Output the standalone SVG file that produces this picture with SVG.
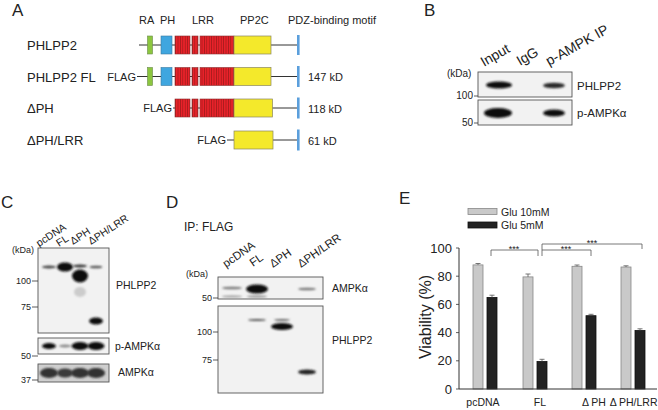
<svg xmlns="http://www.w3.org/2000/svg" width="658" height="410" viewBox="0 0 658 410">
<style>
text{font-family:"Liberation Sans",Arial,sans-serif;fill:#222}
.pl{font-size:17px}
.rl{font-size:13px}
.sm{font-size:11px}
.kd{font-size:9px}
.bl{font-size:10.5px}
.ln{stroke:#333;stroke-width:1;fill:none}
.gr{fill:#8cc63f;stroke:#6a8a4a;stroke-width:0.6}
.bu{fill:#3fa6df;stroke:#3a7aa0;stroke-width:0.6}
.rd{fill:url(#stripe);stroke:#8a3030;stroke-width:0.6}
.ye{fill:#f4e92b;stroke:#8a8660;stroke-width:0.7}
.bar{fill:#5b9fdc}
.blot{fill:#f2f2f2;stroke:#555;stroke-width:0.9}
.band{fill:#111;filter:url(#blur)}
.fb{fill:#777;filter:url(#blur)}
.tk{stroke:#333;stroke-width:0.8}
.g10{fill:#c9c9c9;stroke:#888;stroke-width:0.8}
.g5{fill:#222;stroke:#111;stroke-width:0.8}
.eb{stroke:#555;stroke-width:0.8;fill:none}
</style>
<defs>
<pattern id="stripe" patternUnits="userSpaceOnUse" width="2.4" height="10">
<rect width="2.4" height="10" fill="#e8222a"/>
<rect width="0.7" height="10" fill="#9a1a1a"/>
</pattern>
<filter id="blur" x="-30%" y="-100%" width="160%" height="300%"><feGaussianBlur stdDeviation="1.1"/></filter>
</defs>

<g id="panelA">
<text class="pl" x="12" y="16">A</text>
<text class="sm" x="139" y="24">RA</text>
<text class="sm" x="160" y="24">PH</text>
<text class="sm" x="192" y="24">LRR</text>
<text class="sm" x="240" y="24">PP2C</text>
<text class="sm" x="288" y="24">PDZ-binding motif</text>

<g id="rowPHLPP2">
<text class="rl" x="27" y="50">PHLPP2</text>
<line class="ln" x1="139" y1="45" x2="298" y2="45"/>
<rect class="gr" x="147.5" y="36" width="5" height="18"/>
<rect class="bu" x="161" y="36" width="11" height="18"/>
<rect class="rd" x="175" y="36" width="15" height="18"/>
<rect class="rd" x="192" y="36" width="6" height="18"/>
<rect class="rd" x="200" y="36" width="34" height="18"/>
<rect class="ye" x="234" y="36" width="37" height="18"/>
<rect class="bar" x="297" y="35" width="2.6" height="20"/>
</g>
<g id="rowFL">
<text class="rl" x="27" y="81.5">PHLPP2 FL</text>
<text class="sm" x="136" y="80.5" text-anchor="end">FLAG</text>
<line class="ln" x1="137" y1="76.5" x2="298" y2="76.5"/>
<rect class="gr" x="147.5" y="67.5" width="5" height="18"/>
<rect class="bu" x="161" y="67.5" width="11" height="18"/>
<rect class="rd" x="175" y="67.5" width="15" height="18"/>
<rect class="rd" x="192" y="67.5" width="6" height="18"/>
<rect class="rd" x="200" y="67.5" width="34" height="18"/>
<rect class="ye" x="234" y="67.5" width="37" height="18"/>
<rect class="bar" x="297" y="66" width="2.6" height="21"/>
<text class="sm" x="308" y="81">147 kD</text>
</g>
<g id="rowDPH">
<text class="rl" x="27" y="113">ΔPH</text>
<text class="sm" x="172" y="112" text-anchor="end">FLAG</text>
<line class="ln" x1="173" y1="108" x2="298" y2="108"/>
<rect class="rd" x="175" y="99" width="15" height="18"/>
<rect class="rd" x="192" y="99" width="6" height="18"/>
<rect class="rd" x="200" y="99" width="34" height="18"/>
<rect class="ye" x="234" y="99" width="38.5" height="18"/>
<rect class="bar" x="297" y="97.5" width="2.6" height="21"/>
<text class="sm" x="308" y="112.5">118 kD</text>
</g>
<g id="rowDPHLRR">
<text class="rl" x="27" y="145">ΔPH/LRR</text>
<text class="sm" x="226" y="144" text-anchor="end">FLAG</text>
<line class="ln" x1="227" y1="140" x2="298" y2="140"/>
<rect class="ye" x="234" y="131" width="39" height="18"/>
<rect class="bar" x="297" y="129.5" width="2.6" height="21"/>
<text class="sm" x="308" y="144.5">61 kD</text>
</g>
</g>

<g id="panelB">
<text class="pl" x="424" y="16">B</text>
<text font-size="14" transform="translate(484,67) rotate(-30)">Input</text>
<text font-size="14" transform="translate(520,66) rotate(-30)">IgG</text>
<text font-size="14" transform="translate(549,66) rotate(-29)">p-AMPK IP</text>
<text font-size="10" x="447" y="77">(kDa)</text>
<rect class="blot" x="478" y="72" width="94" height="25"/>
<rect class="blot" x="478" y="100" width="94" height="25"/>
<ellipse class="band" cx="499" cy="85" rx="13" ry="3.6"/>
<ellipse class="band" cx="554" cy="85.5" rx="11" ry="2.8" style="fill:#2a2a2a"/>
<ellipse class="band" cx="498" cy="113" rx="14" ry="5"/>
<ellipse class="band" cx="554" cy="113" rx="11" ry="3.6"/>
<text font-size="10" x="473" y="99" text-anchor="end">100</text>
<line class="tk" x1="474" y1="96" x2="478" y2="96"/>
<text font-size="10" x="473" y="126" text-anchor="end">50</text>
<line class="tk" x1="474" y1="123" x2="478" y2="123"/>
<text font-size="11.5" x="577" y="90">PHLPP2</text>
<text font-size="11.5" x="577" y="117">p-AMPKα</text>
</g>

<g id="panelC">
<text class="pl" x="1" y="208">C</text>
<text font-size="10.5" transform="translate(39,247) rotate(-33)">pcDNA</text>
<text font-size="10.5" transform="translate(59,247) rotate(-33)">FL</text>
<text font-size="10.5" transform="translate(73,245) rotate(-33)">ΔPH</text>
<text font-size="10.5" transform="translate(91,245) rotate(-33)">ΔPH/LRR</text>
<text class="kd" x="12" y="253">(kDa)</text>
<rect class="blot" x="38" y="248" width="71" height="85"/>
<rect class="blot" x="38" y="338" width="71" height="16"/>
<rect class="blot" x="38" y="364" width="71" height="18" style="fill:#cfcfcf"/>
<ellipse class="band" cx="49" cy="267" rx="7" ry="1.4" style="fill:#444"/>
<ellipse class="band" cx="65" cy="267" rx="8" ry="4.5"/>
<ellipse class="band" cx="80" cy="266" rx="7" ry="1.5" style="fill:#333"/>
<ellipse class="band" cx="80" cy="276" rx="8" ry="6.5"/>
<ellipse class="fb" cx="80" cy="292" rx="6" ry="5" style="fill:#ccc"/>
<ellipse class="band" cx="96" cy="267" rx="6.5" ry="1.3" style="fill:#555"/>
<ellipse class="band" cx="96" cy="321" rx="7" ry="3.5"/>
<ellipse class="band" cx="49" cy="346" rx="7" ry="3"/>
<ellipse class="band" cx="65" cy="346" rx="6" ry="1.5" style="fill:#888"/>
<ellipse class="band" cx="80" cy="346" rx="8.5" ry="4"/>
<ellipse class="band" cx="96" cy="346" rx="8.5" ry="4"/>
<ellipse class="band" cx="49" cy="373" rx="9" ry="5" style="fill:#333"/>
<ellipse class="band" cx="65" cy="373" rx="8" ry="4.5" style="fill:#3a3a3a"/>
<ellipse class="band" cx="80" cy="373" rx="9" ry="5" style="fill:#333"/>
<ellipse class="band" cx="96" cy="373" rx="9" ry="5" style="fill:#333"/>
<text class="kd" x="31" y="284" text-anchor="end">100</text>
<line class="tk" x1="32" y1="281" x2="38" y2="281"/>
<text class="kd" x="31" y="310" text-anchor="end">75</text>
<line class="tk" x1="32" y1="307" x2="38" y2="307"/>
<text class="kd" x="31" y="359" text-anchor="end">50</text>
<line class="tk" x1="32" y1="356" x2="38" y2="356"/>
<text class="kd" x="31" y="383" text-anchor="end">37</text>
<line class="tk" x1="32" y1="380" x2="38" y2="380"/>
<text class="bl" x="116" y="289">PHLPP2</text>
<text class="bl" x="115" y="350">p-AMPKα</text>
<text class="bl" x="118" y="376">AMPKα</text>
</g>

<g id="panelD">
<text class="pl" x="166" y="208">D</text>
<text font-size="12" x="184" y="231">IP: FLAG</text>
<text font-size="11.5" transform="translate(226,268) rotate(-35)">pcDNA</text>
<text font-size="11.5" transform="translate(253,267) rotate(-35)">FL</text>
<text font-size="11.5" transform="translate(273,268) rotate(-35)">ΔPH</text>
<text font-size="11.5" transform="translate(301,268) rotate(-35)">ΔPH/LRR</text>
<text class="kd" x="186" y="277">(kDa)</text>
<rect class="blot" x="218" y="277" width="105" height="22"/>
<rect class="blot" x="218" y="306" width="105" height="87"/>
<ellipse class="band" cx="232" cy="288" rx="10" ry="1.3" style="fill:#777"/>
<ellipse class="band" cx="232" cy="296.5" rx="10" ry="1" style="fill:#999"/>
<ellipse class="band" cx="257" cy="289" rx="11" ry="4.5"/>
<ellipse class="band" cx="257" cy="296.5" rx="10" ry="1" style="fill:#888"/>
<ellipse class="band" cx="307" cy="289" rx="9" ry="1.3" style="fill:#777"/>
<ellipse class="band" cx="257" cy="320" rx="9" ry="1.1" style="fill:#555"/>
<ellipse class="band" cx="282" cy="320" rx="8" ry="0.9" style="fill:#666"/>
<ellipse class="band" cx="282" cy="326.5" rx="11" ry="3.6"/>
<ellipse class="band" cx="307" cy="372" rx="9" ry="2.5" style="fill:#222"/>
<text class="kd" x="212" y="301" text-anchor="end">50</text>
<line class="tk" x1="213" y1="298" x2="218" y2="298"/>
<text class="kd" x="212" y="335" text-anchor="end">100</text>
<line class="tk" x1="213" y1="332" x2="218" y2="332"/>
<text class="kd" x="212" y="363" text-anchor="end">75</text>
<line class="tk" x1="213" y1="360" x2="218" y2="360"/>
<text class="bl" x="332" y="292">AMPKα</text>
<text class="bl" x="332" y="344">PHLPP2</text>
</g>

<g id="panelE">
<text class="pl" x="399" y="204">E</text>
<rect class="g10" x="468" y="208.5" width="29" height="6"/>
<rect class="g5" x="468" y="222" width="29" height="6"/>
<text font-size="10.5" x="501" y="215.5">Glu 10mM</text>
<text font-size="10.5" x="501" y="229">Glu 5mM</text>
<text font-size="16" transform="translate(431,317) rotate(-90)" text-anchor="middle">Viability (%)</text>
<g font-size="13">
<text x="452" y="393.5" text-anchor="end">0</text>
<text x="452" y="365.3" text-anchor="end">20</text>
<text x="452" y="337.1" text-anchor="end">40</text>
<text x="452" y="308.9" text-anchor="end">60</text>
<text x="452" y="280.7" text-anchor="end">80</text>
<text x="452" y="252.5" text-anchor="end">100</text>
</g>
<path class="tk" d="M456 389H459M456 360.8H459M456 332.6H459M456 304.4H459M456 276.2H459M456 248H459"/>
<rect class="g10" x="473" y="264.9" width="10" height="124.1"/>
<rect class="g5" x="487" y="297.4" width="10" height="91.6"/>
<rect class="g10" x="523" y="276.9" width="10" height="112.1"/>
<rect class="g5" x="537" y="361.5" width="10" height="27.5"/>
<rect class="g10" x="572" y="266.3" width="10" height="122.7"/>
<rect class="g5" x="586" y="315.7" width="10" height="73.3"/>
<rect class="g10" x="621" y="267" width="10" height="122"/>
<rect class="g5" x="635" y="330.5" width="10" height="58.5"/>
<path class="eb" d="M478 263.5V264.9M475.5 263.5H480.5M492 295.2V297.4M489.5 295.2H494.5M528 274V276.9M525.5 274H530.5M542 359.3V361.5M539.5 359.3H544.5M577 265V266.3M574.5 265H579.5M591 314.3V315.7M588.5 314.3H593.5M626 265.8V267M623.5 265.8H628.5M640 328.8V330.5M637.5 328.8H642.5"/>
<line x1="459" y1="248" x2="459" y2="389" stroke="#333" stroke-width="1"/>
<line x1="459" y1="389" x2="657" y2="389" stroke="#333" stroke-width="1"/>
<g font-size="10.5" text-anchor="middle">
<text x="483" y="406">pcDNA</text>
<text x="540" y="406">FL</text>
<text x="594" y="406">Δ PH</text>
</g>
<text font-size="10.5" x="657.5" y="406" text-anchor="end">Δ PH/LRR</text>
<path d="M491 256V250H538V256M542 256V250H591V256M542 250V244H642V249" fill="none" stroke="#555" stroke-width="0.8"/>
<g font-size="9" text-anchor="middle">
<text x="514" y="252">***</text>
<text x="566" y="252">***</text>
<text x="592" y="246">***</text>
</g>
</g>
</svg>
